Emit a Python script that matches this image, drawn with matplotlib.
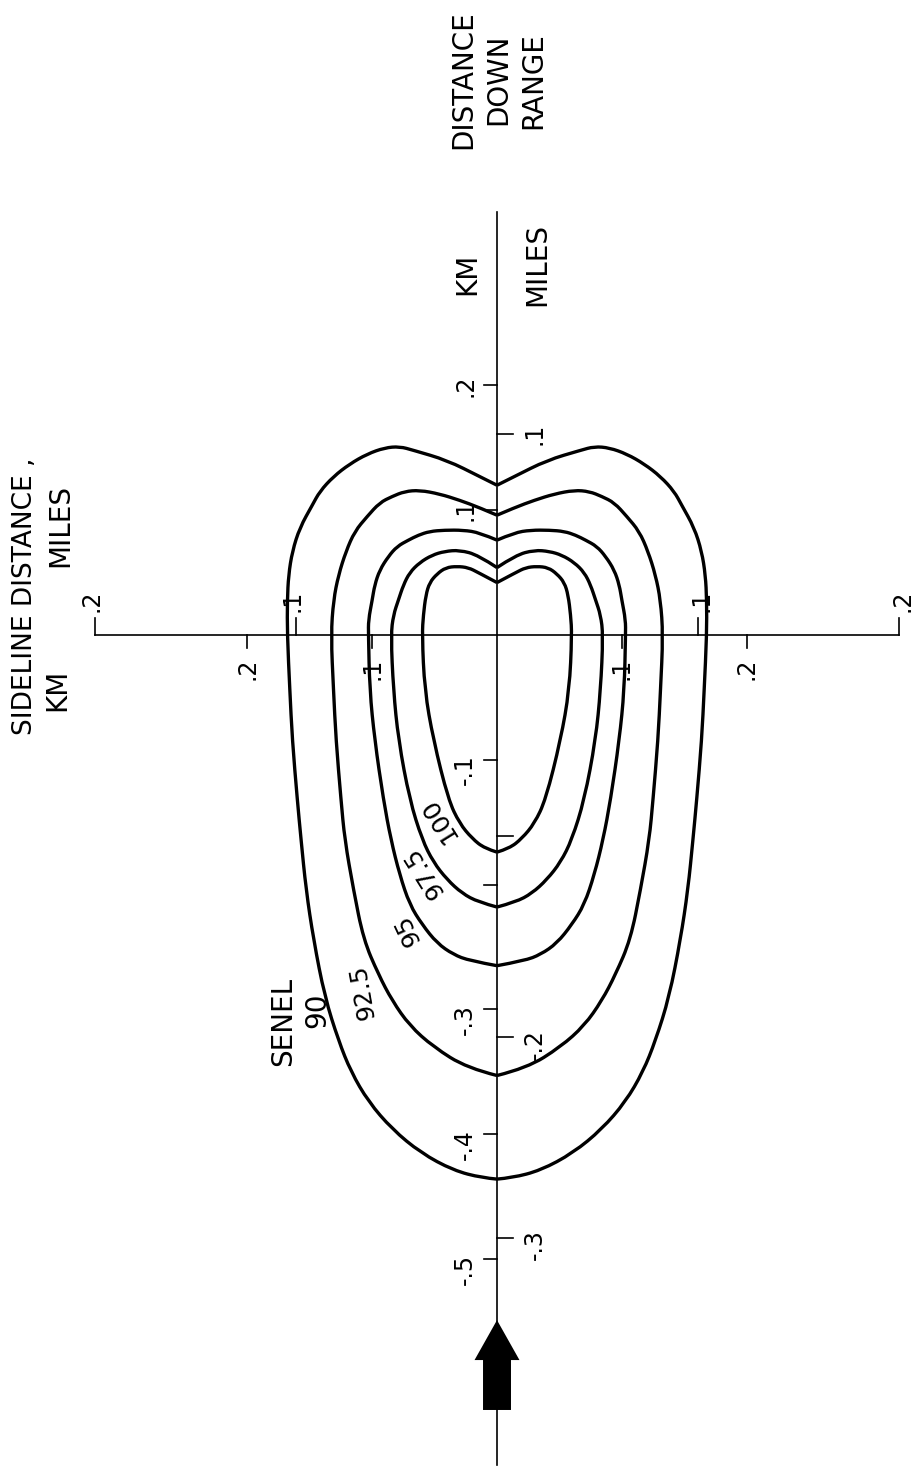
import numpy as np
import matplotlib
matplotlib.use("Agg")
import matplotlib.pyplot as plt
from matplotlib.path import Path
from matplotlib.patches import PathPatch

KM_PER_MILE = 1.609344

# SENEL contours, left half only (sideline km, down range km), from the cusp
# at the top round to the tail on the flight path; the right half is mirrored
levels = ["90", "92.5", "95", "97.5", "100"]

side_90 = [0.000, -0.014, -0.040, -0.067, -0.078, -0.090, -0.104, -0.118, -0.131, -0.142,
           -0.148, -0.158, -0.164, -0.167, -0.168, -0.168, -0.166, -0.164, -0.160, -0.157,
           -0.153, -0.147, -0.138, -0.127, -0.117, -0.103, -0.084, -0.061, -0.035, -0.012, 0.000]
down_90 = [0.120, 0.127, 0.140, 0.148, 0.151, 0.150, 0.145, 0.137, 0.127, 0.115,
           0.104, 0.086, 0.067, 0.048, 0.028, 0.000, -0.044, -0.084, -0.132, -0.164,
           -0.204, -0.244, -0.290, -0.325, -0.350, -0.374, -0.396, -0.415, -0.429, -0.435, -0.436]

side_925 = [0.000, -0.014, -0.030, -0.046, -0.062, -0.074, -0.084, -0.094, -0.104, -0.114,
            -0.121, -0.127, -0.131, -0.133, -0.131, -0.129, -0.125, -0.122, -0.115, -0.107,
            -0.095, -0.084, -0.070, -0.051, -0.024, 0.000]
down_925 = [0.096, 0.102, 0.108, 0.113, 0.116, 0.115, 0.111, 0.106, 0.095, 0.083,
            0.067, 0.048, 0.028, 0.000, -0.044, -0.084, -0.132, -0.164, -0.204, -0.244,
            -0.272, -0.293, -0.313, -0.330, -0.347, -0.353]

side_95 = [0.000, -0.014, -0.027, -0.042, -0.054, -0.063, -0.071, -0.080, -0.087, -0.094,
           -0.098, -0.100, -0.103, -0.103, -0.102, -0.098, -0.091, -0.085, -0.078, -0.070,
           -0.060, -0.048, -0.035, -0.022, 0.000]
down_95 = [0.076, 0.082, 0.084, 0.084, 0.083, 0.080, 0.076, 0.071, 0.063, 0.052,
           0.040, 0.028, 0.012, 0.000, -0.044, -0.084, -0.132, -0.164, -0.192, -0.216,
           -0.232, -0.247, -0.256, -0.261, -0.265]

side_975 = [0.000, -0.015, -0.030, -0.042, -0.052, -0.062, -0.070, -0.075, -0.079, -0.083,
            -0.085, -0.083, -0.079, -0.070, -0.060, -0.051, -0.040, -0.028, -0.015, 0.000]
down_975 = [0.054, 0.064, 0.068, 0.067, 0.064, 0.058, 0.050, 0.040, 0.028, 0.016,
            0.000, -0.044, -0.084, -0.132, -0.164, -0.182, -0.196, -0.207, -0.214, -0.218]

side_100 = [0.000, -0.015, -0.023, -0.032, -0.041, -0.048, -0.054, -0.057, -0.059, -0.060,
            -0.058, -0.051, -0.039, -0.030, -0.020, -0.010, 0.000]
down_100 = [0.042, 0.050, 0.054, 0.055, 0.054, 0.049, 0.042, 0.032, 0.016, 0.000,
            -0.044, -0.084, -0.132, -0.151, -0.163, -0.171, -0.174]

contours = [(side_90, down_90), (side_925, down_925), (side_95, down_95),
            (side_975, down_975), (side_100, down_100)]

# label positions (sideline km, down range km, rotation)
label_side = [-0.144, -0.108, -0.072, -0.059, -0.047]
label_down = [-0.301, -0.286, -0.236, -0.190, -0.148]
label_rot = [90, 100, 115, 122, 122]

# down range axis ticks
down_km_ticks = [0.2, 0.1, -0.1, -0.2, -0.3, -0.4, -0.5]
down_km_labels = [".2", ".1", "-.1", "", "-.3", "-.4", "-.5"]
down_mi_ticks = [0.1, -0.1, -0.2, -0.3]
down_mi_labels = [".1", "", "-.2", "-.3"]

# sideline axis ticks
side_km_ticks = [-0.2, -0.1, 0.1, 0.2]
side_km_labels = [".2", ".1", ".1", ".2"]
side_mi_ticks = [-0.2, -0.1, 0.1, 0.2]
side_mi_labels = [".2", ".1", ".1", ".2"]

down_axis = (-0.665, 0.339)
side_axis = (-0.2 * KM_PER_MILE, 0.2 * KM_PER_MILE)

# flight direction arrow
arrow_tip, arrow_neck, arrow_tail = -0.549, -0.581, -0.621
arrow_head_w, arrow_shaft_w = 0.018, 0.0112


def smooth_path(xs, ys):
    # quadratic beziers through the midpoints, ends kept exact (cusp stays sharp)
    pts = np.column_stack([xs, ys])
    verts = [pts[0]]
    codes = [Path.MOVETO]
    for i in range(1, len(pts) - 1):
        end = pts[i + 1] if i == len(pts) - 2 else (pts[i] + pts[i + 1]) / 2
        verts += [pts[i], end]
        codes += [Path.CURVE3, Path.CURVE3]
    return Path(verts, codes)


fig = plt.figure(figsize=(9.16, 14.72), dpi=100)
ax = fig.add_axes([0, 0, 1, 1])
ax.set_xlim(-0.3982, 0.3357)
ax.set_ylim(-0.6707, 0.5088)
ax.axis("off")

lw_axis = 1.2
ax.plot([0, 0], down_axis, color="black", lw=lw_axis)
ax.plot(side_axis, [0, 0], color="black", lw=lw_axis)

tick = 0.0105
tfs = 17
for t, lab in zip(down_km_ticks, down_km_labels):
    ax.plot([-tick, 0], [t, t], color="black", lw=lw_axis)
    if lab:
        y = t - 0.008 if t < 0 else t
        ax.text(-0.0256, y, lab, rotation=90, fontsize=tfs, ha="center", va="center")
for t, lab in zip(down_mi_ticks, down_mi_labels):
    t = t * KM_PER_MILE
    ax.plot([0, 0.013], [t, t], color="black", lw=lw_axis)
    if lab:
        y = t - 0.006 if t < 0 else t
        ax.text(0.030, y, lab, rotation=90, fontsize=tfs, ha="center", va="center")
for t, lab in zip(side_km_ticks, side_km_labels):
    ax.plot([t, t], [0, -tick], color="black", lw=lw_axis)
    ax.text(t, -0.027, lab, rotation=90, fontsize=tfs, ha="center", va="center")
for t, lab in zip(side_mi_ticks, side_mi_labels):
    t = t * KM_PER_MILE
    ax.plot([t, t], [0, 0.0136], color="black", lw=lw_axis)
    ax.text(t + np.sign(t) * 0.003, 0.027, lab, rotation=90, fontsize=tfs,
            ha="center", va="center")

# contours, mirrored about the flight path
for s, d in contours:
    s = np.array(s)
    d = np.array(d)
    for sign in (1, -1):
        ax.add_patch(PathPatch(smooth_path(sign * s, d), fill=False,
                               edgecolor="black", lw=2.4, joinstyle="miter",
                               capstyle="butt"))

for lev, x, y, r in zip(levels, label_side, label_down, label_rot):
    ax.text(x, y, lev, rotation=r, fontsize=20 if lev == "90" else 18,
            ha="center", va="center", rotation_mode="anchor")
ax.text(-0.1715, -0.310, "SENEL", rotation=90, fontsize=20, ha="center", va="center")

ax.fill([0, arrow_head_w, arrow_shaft_w, arrow_shaft_w, -arrow_shaft_w, -arrow_shaft_w,
         -arrow_head_w],
        [arrow_tip, arrow_neck, arrow_neck, arrow_tail, arrow_tail, arrow_neck, arrow_neck],
        color="black", lw=0)

# titles
fs = 20
ax.text(-0.378, 0.031, "SIDELINE DISTANCE ,", rotation=90, fontsize=19,
        ha="center", va="center")
ax.text(-0.352, -0.044, "KM", rotation=90, fontsize=fs, ha="center", va="center")
ax.text(-0.350, 0.088, "MILES", rotation=90, fontsize=fs, ha="center", va="center")
ax.text(-0.027, 0.445, "DISTANCE", rotation=90, fontsize=fs, ha="center", va="center")
ax.text(0.001, 0.445, "DOWN", rotation=90, fontsize=fs, ha="center", va="center")
ax.text(0.029, 0.444, "RANGE", rotation=90, fontsize=fs, ha="center", va="center")
ax.text(-0.024, 0.289, "KM", rotation=90, fontsize=fs, ha="center", va="center")
ax.text(0.032, 0.297, "MILES", rotation=90, fontsize=fs, ha="center", va="center")

fig.savefig("out.png", dpi=100)
